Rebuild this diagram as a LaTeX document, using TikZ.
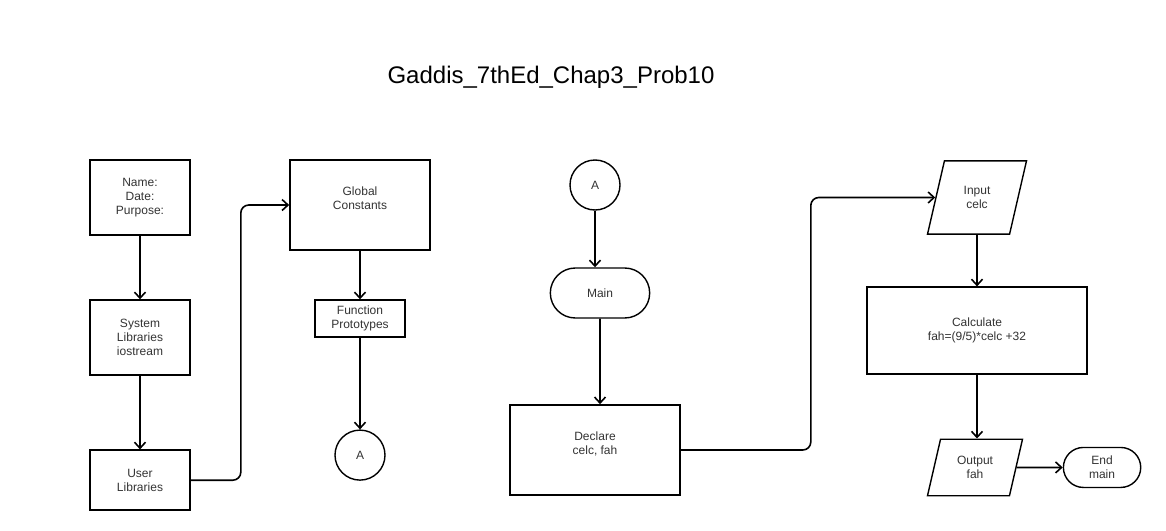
\documentclass[tikz,border=0pt]{standalone}
\usepackage{fontspec}
\setmainfont{Liberation Sans}
\usepackage{tikz}
\usetikzlibrary{arrows.meta,shapes,positioning,calc}
\tikzset{ % Standard box and line style
    block/.style={rectangle, draw, line width=1.6pt, align=center, text=black!80, font=\fontsize{12}{14}\selectfont},
    term/.style={rounded rectangle, draw, line width=1.4pt, align=center, text=black!80, font=\fontsize{12}{14}\selectfont},
    conn/.style={circle, draw, line width=1.4pt, minimum size=50pt, text=black!80, font=\fontsize{12}{14}\selectfont},
    io/.style={trapezium, trapezium left angle=77, trapezium right angle=103, trapezium stretches body, draw, line width=1.4pt, align=center, text=black!80, font=\fontsize{12}{14}\selectfont},
    line/.style={draw, line width=1.6pt, -{Straight Barb[length=6pt,width=11pt]}}
}
\begin{document}
\begin{tikzpicture}[x=1pt, y=-1pt]
	\useasboundingbox (0,0) rectangle (1166,530);
	%Title
	\node (title) at (551,77) {\fontsize{24}{28}\selectfont Gaddis\_7thEd\_Chap3\_Prob10};
	%Nodes
	\node[block, minimum width=100pt, minimum height=75pt] at (140,197.5) (name) {Name:\\Date:\\Purpose:};
	\node[block, minimum width=100pt, minimum height=75pt, below=63.5pt of name] (sys) {System\\Libraries\\iostream};
	\node[block, minimum width=100pt, minimum height=60pt, below=73.5pt of sys] (user) {User\\Libraries};
	\node[block, minimum width=140pt, minimum height=90pt] at (360,205) (glob) {Global\\Constants\\\mbox{}};
	\node[block, minimum width=90pt, minimum height=37pt, below=48.5pt of glob] (proto) {Function\\Prototypes};
	\node[conn, below=91.5pt of proto] (conA) {A};
	\node[conn] at (595,185) (conB) {A};
	\node[term, minimum width=106pt, minimum height=50pt] at (600,293) (main) {Main};
	\node[block, minimum width=170pt, minimum height=90pt, below=85.5pt of main, xshift=-5pt] (decl) {Declare\\celc, fah\\\mbox{}};
	\node[io, inner ysep=25.5pt, minimum width=99pt] at (977,197.5) (inp) {Input\\celc};
	\node[block, minimum width=220pt, minimum height=87pt, below=51.5pt of inp] (calc) {Calculate\\fah=(9/5)*celc +32};
	\node[io, inner ysep=17pt, minimum width=95pt, below=63.5pt of calc, xshift=-2pt] (outp) {Output\\fah};
	\node[term, minimum width=84pt, minimum height=40pt, right=46pt of outp] (endm) {End\\main};
	%Edges
	\draw [line] (name) -- (sys);
	\draw [line] (sys) -- (user);
	\draw [line, rounded corners=8pt] (user.east) -- ++(50,0) |- (glob.west);
	\draw [line] (glob) -- (proto);
	\draw [line] (proto) -- (conA);
	\draw [line] (conB) -- (conB |- main.north);
	\draw [line] (main) -- (main |- decl.north);
	\draw [line, rounded corners=8pt] (decl.east) -- ++(130,0) |- (inp.west);
	\draw [line] (inp) -- (calc);
	\draw [line] (calc) -- (calc |- outp.north);
	\draw [line] (outp) -- (endm);
\end{tikzpicture}
\end{document}
